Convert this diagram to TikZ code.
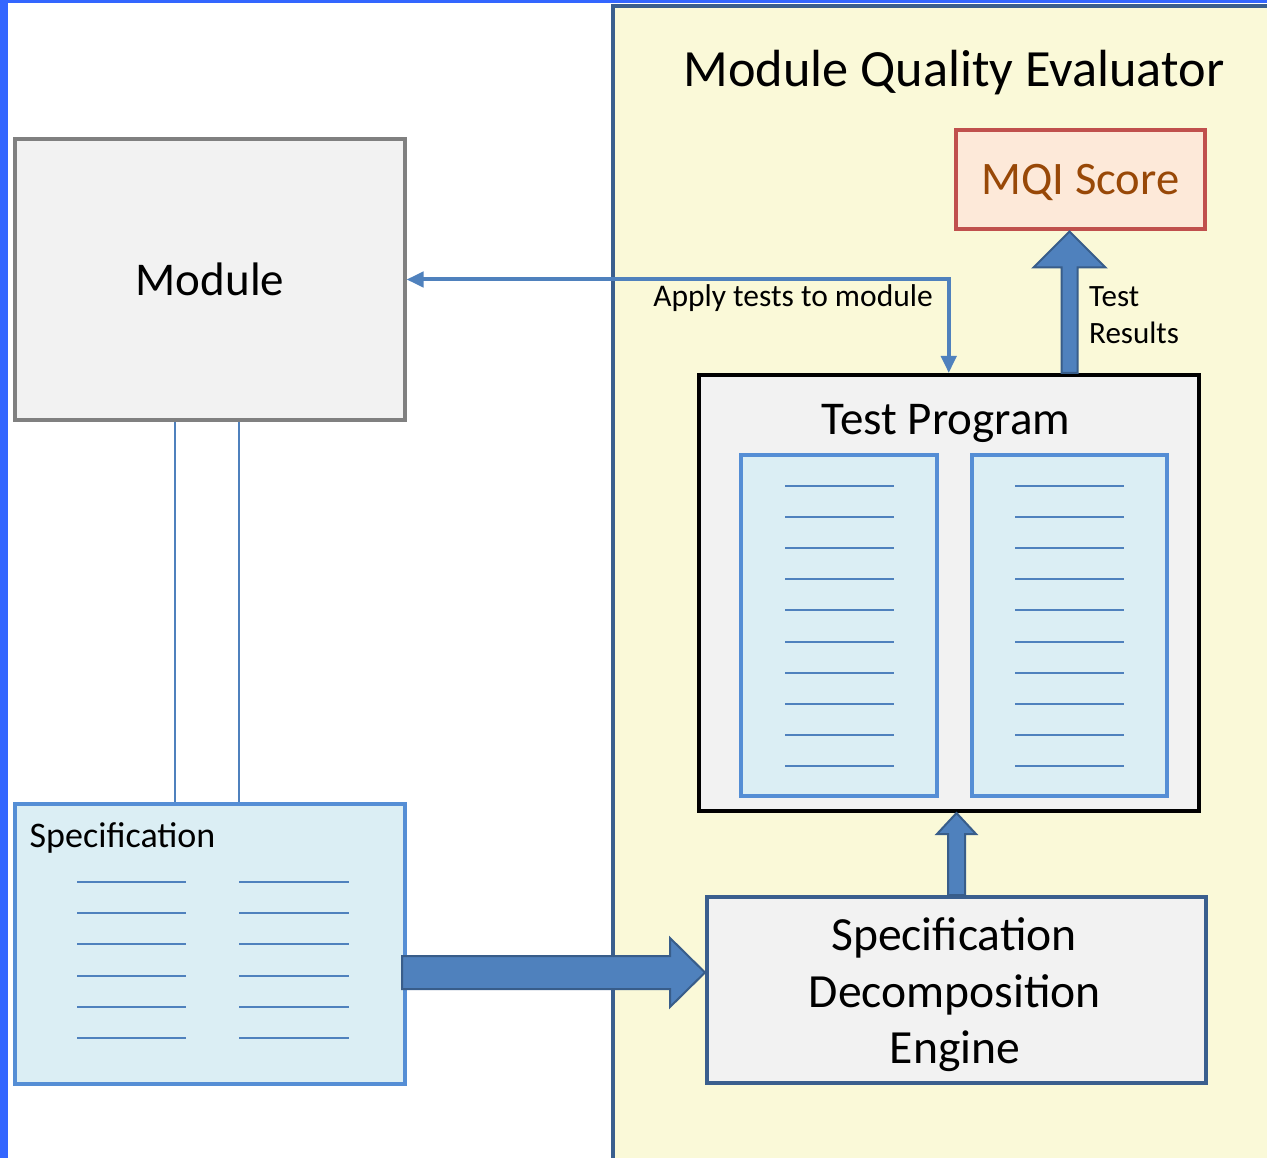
\documentclass[tikz,border=0pt]{standalone}
\usepackage{fontspec}
\setmainfont{Carlito}
\usetikzlibrary{calc,arrows.meta}
\definecolor{barblue}{HTML}{3366FF}
\definecolor{panelfill}{HTML}{FAF9D8}
\definecolor{panelline}{HTML}{3A5F8E}
\definecolor{boxgray}{HTML}{F2F2F2}
\definecolor{grayline}{HTML}{808080}
\definecolor{mqiline}{HTML}{C0504D}
\definecolor{mqifill}{HTML}{FDE9D9}
\definecolor{mqitext}{HTML}{984807}
\definecolor{docline}{HTML}{558ED5}
\definecolor{docfill}{HTML}{DBEEF4}
\definecolor{accent}{HTML}{4F81BD}
\definecolor{accentdark}{HTML}{385D8A}
\newcommand\fatup[5]{%
  \filldraw[fatarrow] ($(#1)+(-#3,0)$) -- ($(#2)+(-#3,#5)$) -- ($(#2)+(-#4,#5)$) -- (#2)
    -- ($(#2)+(#4,#5)$) -- ($(#2)+(#3,#5)$) -- ($(#1)+(#3,0)$) -- cycle;}
\newcommand\fatright[5]{%
  \filldraw[fatarrow] ($(#1)+(0,-#3)$) -- ($(#2)+(-#5,-#3)$) -- ($(#2)+(-#5,-#4)$) -- (#2)
    -- ($(#2)+(-#5,#4)$) -- ($(#2)+(-#5,#3)$) -- ($(#1)+(0,#3)$) -- cycle;}
\begin{document}
\begin{tikzpicture}[x=1pt,y=-1pt,
  box/.style={rectangle, inner sep=0pt, line width=4pt},
  docbox/.style={box, draw=docline, fill=docfill},
  txt/.style={inner sep=0pt, anchor=base, text=black},
  docrule/.style={draw=accent, line width=2pt},
  thinblue/.style={draw=accent, line width=2pt},
  fatarrow/.style={fill=accent, draw=accentdark, line width=2pt, line join=miter},
  >={Triangle[width=15pt,length=17pt]}]
\useasboundingbox (0,0) rectangle (1267,1158);
\fill[white] (0,0) rectangle (1267,1158);
\begin{scope}
\clip (0,0) rectangle (1267,1158);
% evaluator panel
\draw[draw=panelline, fill=panelfill, line width=4pt] (613,6) rectangle (1290,1180);
% window bars
\fill[barblue] (0,0) rectangle (1267,3.5);
\fill[barblue] (0,0) rectangle (8,1158);
\end{scope}

\node[txt, font=\fontsize{52.3}{63}\selectfont] (mqe) at (954,87) {Module Quality Evaluator};

% module
\node[box, draw=grayline, fill=boxgray, minimum width=390pt, minimum height=280pt] (module) at (209.5,279.5) {};
\node[txt, font=\fontsize{47}{56}\selectfont] (modtxt) at (210,296) {Module};

% specification
\node[docbox, minimum width=389.5pt, minimum height=280pt] (spec) at (209.75,944) {};
\node[txt, anchor=base west, font=\fontsize{36}{43}\selectfont] (spectxt) at (29.5,847) {Specification};
\foreach \k in {0,...,5}{
  \draw[docrule] (77,882+31.2*\k) -- (186,882+31.2*\k);
  \draw[docrule] (239,882+31.2*\k) -- (349,882+31.2*\k);
}

% connections module -- specification
\coordinate (v1) at (174.5,0);
\coordinate (v2) at (239,0);
\draw[thinblue] (v1 |- module.south) -- (v1 |- spec.north);
\draw[thinblue] (v2 |- module.south) -- (v2 |- spec.north);

% MQI score
\node[box, draw=mqiline, fill=mqifill, minimum width=249.5pt, minimum height=99pt] (mqi) at (1080.25,180) {};
\node[txt, text=mqitext, font=\fontsize{46.6}{56}\selectfont] (mqitxt) at (1080.5,195) {MQI Score};

% test program
\node[box, draw=black, fill=boxgray, minimum width=499.5pt, minimum height=436pt] (tp) at (948.75,593) {};
\node[txt, font=\fontsize{47}{56}\selectfont] (tptxt) at (946,435) {Test Program};
\node[docbox, minimum width=196pt, minimum height=341pt] (tpl) at (839,625) {};
\node[docbox, minimum width=195pt, minimum height=341pt] (tpr) at (1069.5,625) {};
\foreach \k in {0,...,9}{
  \draw[docrule] (785,486+31.1*\k) -- (894,486+31.1*\k);
  \draw[docrule] (1015,486+31.1*\k) -- (1124,486+31.1*\k);
}

% specification decomposition engine
\node[box, draw=panelline, fill=boxgray, minimum width=498.5pt, minimum height=185.5pt] (sde) at (956.25,989.75) {};
\node[txt, font=\fontsize{47.6}{57}\selectfont] (sde1) at (954,950) {Specification};
\node[txt, font=\fontsize{47.6}{57}\selectfont] (sde2) at (955,1007) {Decomposition};
\node[txt, font=\fontsize{47.6}{57}\selectfont] (sde3) at (955,1063) {Engine};

% apply tests connector
\draw[draw=accent, line width=4pt, <->] (module.east) -| (tp.north);
\node[txt, anchor=base east, font=\fontsize{31.5}{38}\selectfont] (applytxt) at (933,307) {Apply tests to module};

% test results arrow
\coordinate (tr) at (1069.5,0);
\fatup{tr |- tp.north}{tr |- mqi.south}{8}{36}{36}
\node[txt, anchor=base west, font=\fontsize{31}{37}\selectfont] (tr1) at (1089,307) {Test};
\node[txt, anchor=base west, font=\fontsize{31}{37}\selectfont] (tr2) at (1089,344) {Results};

% decomposition -> test program arrow
\coordinate (sa) at (956.5,0);
\fatup{sa |- sde.north}{sa |- tp.south}{8.5}{19.5}{21}

% specification -> decomposition arrow
\coordinate (ra) at (402,972.5);
\fatright{ra}{sde.west |- ra}{16.5}{34.5}{35}
\end{tikzpicture}
\end{document}
